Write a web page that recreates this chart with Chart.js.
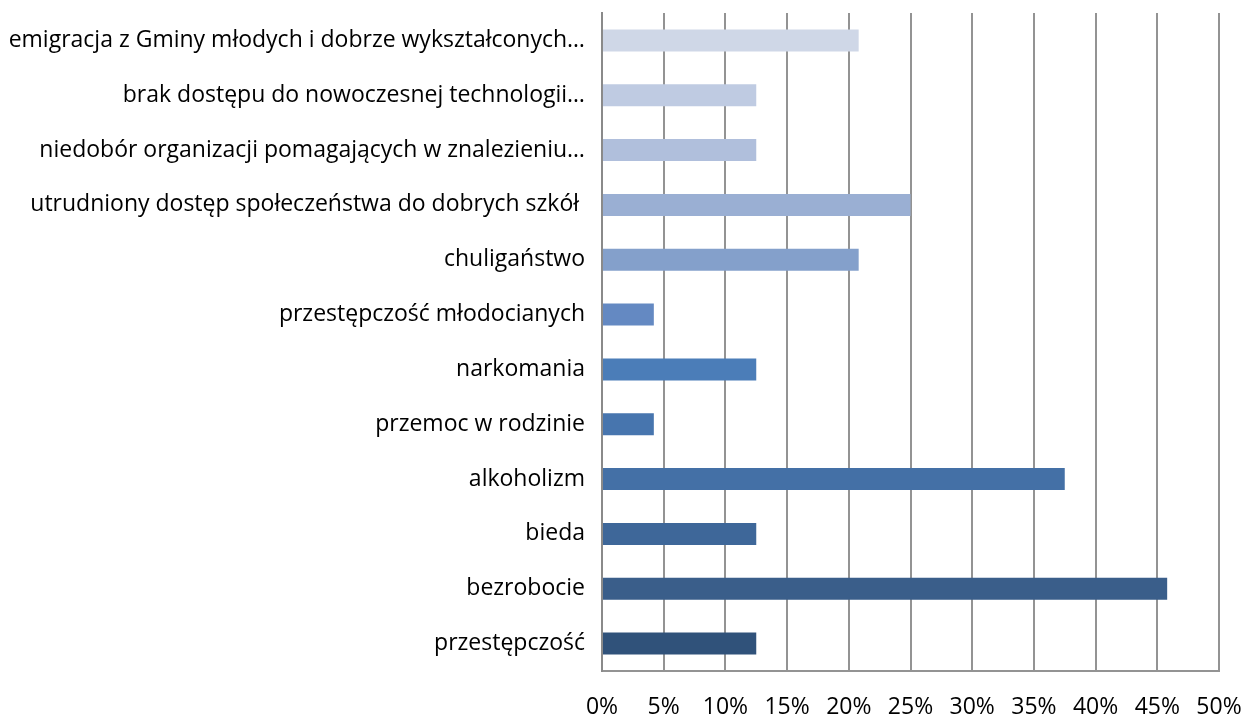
<!DOCTYPE html>
<html>
<head>
<meta charset="utf-8">
<script src="https://cdn.jsdelivr.net/npm/chart.js@4"></script>
<style>
  html, body { margin: 0; padding: 0; background: #fff; }
  #wrap { width: 1246px; height: 715px; }
</style>
</head>
<body>
<div id="wrap"><canvas id="chart" width="1246" height="715"></canvas></div>
<script>
// categories, top to bottom
const categories = [
    'emigracja z Gminy młodych i dobrze wykształconych…',
    'brak dostępu do nowoczesnej technologii…',
    'niedobór organizacji pomagających w znalezieniu…',
    'utrudniony dostęp społeczeństwa do dobrych szkół ',
    'chuligaństwo',
    'przestępczość młodocianych',
    'narkomania',
    'przemoc w rodzinie',
    'alkoholizm',
    'bieda',
    'bezrobocie',
    'przestępczość'
];

// share of answers, percent
const values = [20.8, 12.5, 12.5, 25.0, 20.8, 4.2, 12.5, 4.2, 37.5, 12.5, 45.8, 12.5];

const barColors = [
    '#cfd7e7', '#bfcbe2', '#b0bfdc', '#9aafd3', '#84a0cb', '#6489c2',
    '#4b7db8', '#4775ae', '#4470a6', '#3e6799', '#3a5e8a', '#30527a'
];

const xTicks = { min: 0, max: 50, step: 5 };

const fontFamily = '"Open Sans", Lato, sans-serif';

// keep label overhang out of the layout, padding below sets the plot box
function noOverhang(scale) {
    scale.paddingTop = 0;
    scale.paddingBottom = 0;
    scale.paddingLeft = 0;
    scale.paddingRight = 0;
}

new Chart(document.getElementById('chart').getContext('2d'), {
    type: 'bar',
    data: {
        labels: categories,
        datasets: [{
            data: values,
            backgroundColor: barColors,
            borderWidth: 0,
            barPercentage: 1,
            categoryPercentage: 0.4
        }]
    },
    options: {
        indexAxis: 'y',
        responsive: false,
        animation: false,
        layout: { padding: { top: 13, right: 27, left: 0, bottom: 0 } },
        plugins: {
            legend: { display: false },
            tooltip: { enabled: false }
        },
        scales: {
            x: {
                min: xTicks.min,
                max: xTicks.max,
                ticks: {
                    stepSize: xTicks.step,
                    color: '#000',
                    padding: 23,
                    font: { family: fontFamily, size: 23 },
                    callback: v => v + '%'
                },
                grid: { color: '#939393', lineWidth: 2, drawTicks: false },
                border: { display: true, color: '#939393', width: 2 },
                afterFit: scale => { scale.height = 44; noOverhang(scale); }
            },
            y: {
                ticks: {
                    color: '#000',
                    padding: 17,
                    font: { family: fontFamily, size: 23 }
                },
                grid: { display: false, drawTicks: false },
                border: { display: true, color: '#8a8a8a', width: 2 },
                afterFit: scale => { scale.width = 602; noOverhang(scale); }
            }
        }
    }
});
</script>
</body>
</html>
